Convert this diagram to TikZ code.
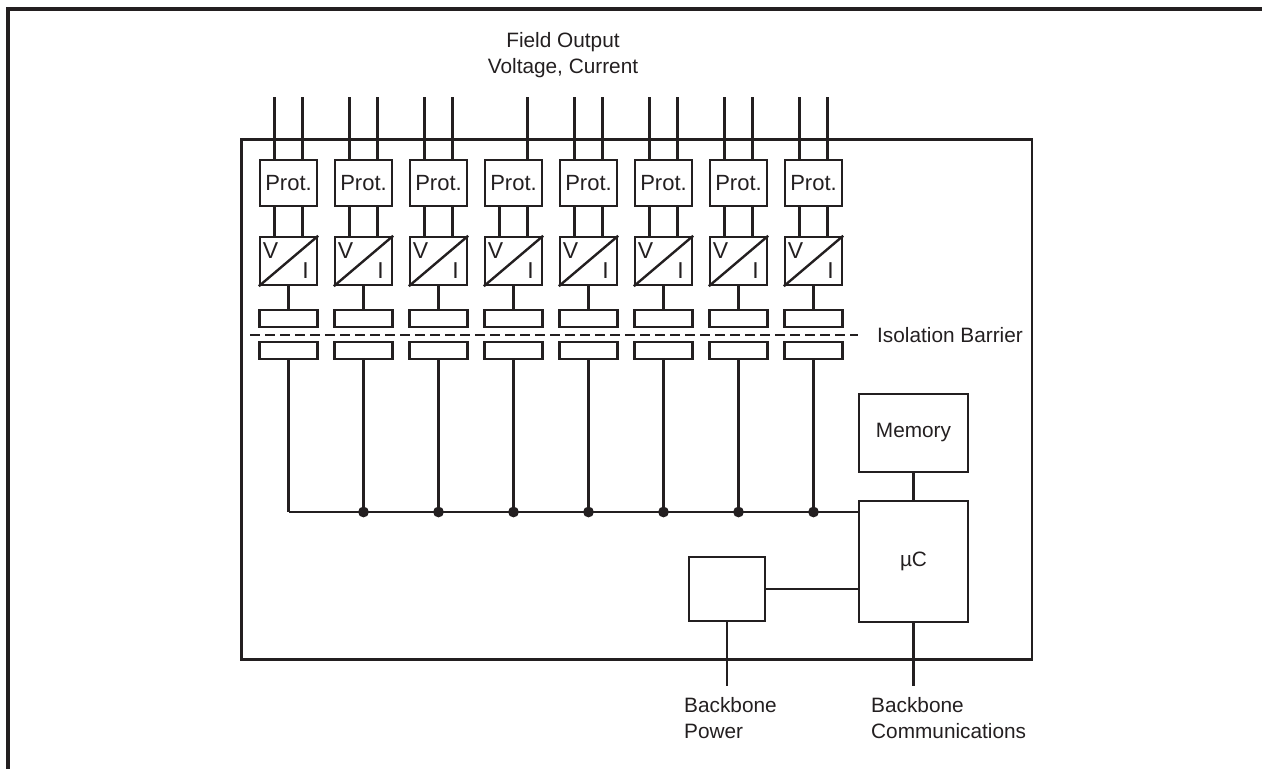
\documentclass[tikz,border=0pt]{standalone}
\usepackage{fontspec}
\setmainfont{Liberation Sans}
\definecolor{ink}{HTML}{231F20}
\tikzset{
  lbl/.style={font=\fontsize{10.4}{13}\selectfont, text=ink, inner sep=0pt},
  blk/.style={draw=ink, line width=1.2pt, inner sep=0pt, lbl},
  chan/.style={blk, minimum width=28.5pt},
  vi/.style={font=\fontsize{11.5}{13}\selectfont, text=ink, inner sep=0pt},
  barrier/.style={draw=ink, line width=1.3pt, dash pattern=on 5pt off 2.5pt},
}

\begin{document}
\begin{tikzpicture}[x=0.5pt, y=-0.5pt, draw=ink, line width=1.2pt]
  \useasboundingbox (0,0) rectangle (1262,769);
  % page frame
  \draw[line width=2pt] (8,769) -- (8,9) -- (1262,9);
  % module outline
  \draw (241.5,139.5) rectangle (1032,659.5);
  \node[lbl, align=center, anchor=north] (field) at (563,31) {Field Output\\Voltage, Current};

  % output channels
  \foreach \i in {1,...,8}{
    \pgfmathsetmacro{\x}{213.5+75*\i}
    \node[chan, minimum height=23pt, font=\fontsize{11}{13}\selectfont] (prot\i) at (\x,183) {Prot.};
    \node[chan, minimum height=24pt] (conv\i) at (\x,261) {};
    \draw (conv\i.south west) -- (conv\i.north east);
    \node[vi] (v\i) at ([xshift=-9pt,yshift=5pt]conv\i.center) {V};
    \node[vi] (c\i) at ([xshift=8.5pt,yshift=-5pt]conv\i.center) {I};
    \node[chan, minimum width=29pt, minimum height=8.5pt] (isoa\i) at (\x,318.5) {};
    \node[chan, minimum width=29pt, minimum height=8.5pt] (isob\i) at (\x,350.5) {};
    \coordinate (tap\i) at (\x,512);
    % wires
    \draw ([xshift=7pt]prot\i.north) -- ++(0,-62);
    \draw ([xshift=-7pt]prot\i.south) -- ([xshift=-7pt]conv\i.north);
    \draw ([xshift=7pt]prot\i.south) -- ([xshift=7pt]conv\i.north);
    \draw (conv\i.south) -- (isoa\i.north);
    \draw (isob\i.south) -- (tap\i);
  }
  % second field wire (not on channel 4)
  \foreach \i in {1,2,3,5,6,7,8}
    \draw ([xshift=-7pt]prot\i.north) -- ++(0,-62);

  % isolation barrier
  \node[lbl, anchor=west] (isol) at (876,335) {Isolation Barrier};
  \draw[barrier] (250,335) -- ([xshift=-9pt]isol.west);

  % controller side
  \node[blk, minimum width=54.5pt, minimum height=39pt] (mem) at (913.5,433) {Memory};
  \node[blk, minimum width=54.5pt, minimum height=60.5pt] (uc) at (913.5,561.5) {µC};
  \node[blk, minimum width=38pt, minimum height=32pt] (pwr) at (727,589) {};
  \draw (mem) -- (uc);
  \draw (pwr.east) -- (pwr.east -| uc.west);

  % bus
  \draw (tap1) -- (tap1 -| uc.west);
  \foreach \i in {2,...,8}
    \fill[ink] (tap\i) circle (2.7pt);

  % backbone
  \draw (pwr.south) -- ++(0,64) coordinate (bpow);
  \draw (uc.south) -- ++(0,63) coordinate (bcom);
  \node[lbl, align=left, anchor=north west] (bplbl) at (683,696) {Backbone\\Power};
  \node[lbl, align=left, anchor=north west] (bclbl) at (870,696) {Backbone\\Communications};
\end{tikzpicture}
\end{document}
